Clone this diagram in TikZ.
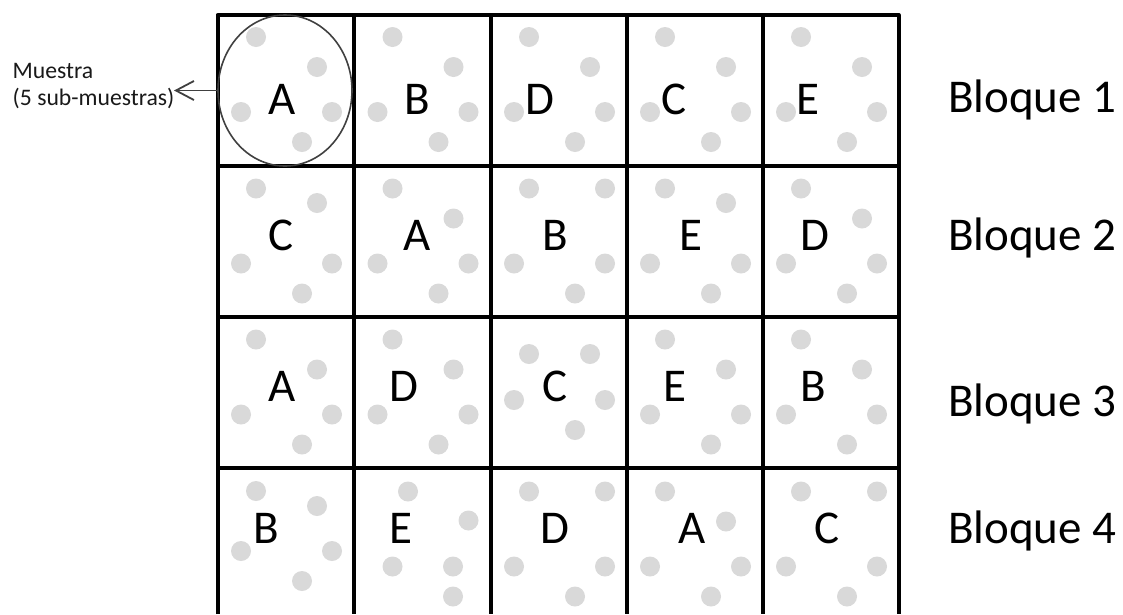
\documentclass[tikz,border=0pt]{standalone}
\usepackage{fontspec}
\setmainfont{Carlito}
\usetikzlibrary{arrows.meta,shapes.geometric}
\definecolor{dotgray}{HTML}{D9D9D9}
\definecolor{edgegray}{HTML}{404040}
\newcommand\celldots[3]{\edef\mydotlist{#3}\foreach \dx/\dy in \mydotlist{\fill[dotc] ({#1+\dx},{#2+\dy}) circle[radius=10pt];}}
\newcommand\patA{38.5/23, 99.5/53, 23.5/98, 114.5/98, 84.5/128}
\begin{document}
\begin{tikzpicture}[x=1pt,y=-1pt,
  dotc/.style={fill=dotgray},
  letter/.style={anchor=base,inner sep=0pt,font=\fontsize{47}{47}\selectfont},
  blk/.style={anchor=base west,inner sep=0pt,font=\fontsize{47}{47}\selectfont},
  small/.style={anchor=base west,inner sep=0pt,font=\fontsize{23.7}{26}\selectfont,text=black!90},
  gridline/.style={line width=4pt,black},
  sample/.style={draw=edgegray,line width=1.6pt,ellipse,inner sep=0pt,
    minimum width=134pt,minimum height=151pt},
  pointer/.style={draw=edgegray,line width=1.8pt,-{Straight Barb[length=18pt,width=19pt]}}]
\useasboundingbox (0,0) rectangle (1123,614);
% dots, row 1
\celldots{217.5}{14}{\patA}
\celldots{354}{14}{\patA}
\celldots{490.5}{14}{\patA}
\celldots{626.5}{14}{\patA}
\celldots{762.5}{14}{\patA}
% row 2
\celldots{217.5}{165.5}{38.5/23, 99.5/37.5, 23.5/98, 114.5/98, 84.5/128}
\celldots{354}{165.5}{\patA}
\celldots{490.5}{165.5}{38.5/23, 114.5/23, 23.5/98, 114.5/98, 84.5/128}
\celldots{626.5}{165.5}{38.5/23, 99.5/37.5, 23.5/98, 114.5/98, 84.5/128}
\celldots{762.5}{165.5}{\patA}
% row 3
\celldots{217.5}{316.5}{\patA}
\celldots{354}{316.5}{\patA}
\celldots{490.5}{316.5}{38.5/37.5, 99.5/37.5, 23.5/83.5, 114.5/83.5, 84.5/113.5}
\celldots{626.5}{316.5}{\patA}
\celldots{762.5}{316.5}{\patA}
% row 4
\celldots{217.5}{467.5}{38.5/23.5, 99.5/38.5, 23.5/83.5, 114.5/83.5, 84.5/113.5}
\celldots{354}{467.5}{54/24, 114.5/53, 38.5/99, 99/99, 99/129}
\celldots{490.5}{467.5}{38.5/24, 114.5/24, 23.5/99, 114.5/99, 84.5/129}
\celldots{626.5}{467.5}{38.5/24, 99.5/54, 23.5/99, 114.5/99, 84.5/129}
\celldots{762.5}{467.5}{38.5/24, 114.5/24, 23.5/99, 114.5/99, 84.5/129}
% letters
\node[letter] (r1a) at (282,114) {A};
\node[letter] (r1b) at (417.5,114) {B};
\node[letter] (r1c) at (540,114) {D};
\node[letter] (r1d) at (674,114) {C};
\node[letter] (r1e) at (808,114) {E};
\node[letter] (r2a) at (281,250) {C};
\node[letter] (r2b) at (417,250) {A};
\node[letter] (r2c) at (555,250) {B};
\node[letter] (r2d) at (690.5,250) {E};
\node[letter] (r2e) at (815,250) {D};
\node[letter] (r3a) at (282.5,401) {A};
\node[letter] (r3b) at (404,401) {D};
\node[letter] (r3c) at (555,401) {C};
\node[letter] (r3d) at (675,401) {E};
\node[letter] (r3e) at (813.5,401) {B};
\node[letter] (r4a) at (266,543) {B};
\node[letter] (r4b) at (400.8,543) {E};
\node[letter] (r4c) at (555,543) {D};
\node[letter] (r4d) at (692,543) {A};
\node[letter] (r4e) at (827,543) {C};
% grid
\draw[gridline,line join=round] (217.5,614) -- (217.5,15) -- (898.5,15) -- (898.5,614);
\foreach \gx in {354,490.5,626.5,762.5}{\draw[gridline] (\gx,15) -- (\gx,614);}
\foreach \gy in {165.5,316.5,467.5}{\draw[gridline] (217.5,\gy) -- (898.5,\gy);}
% block labels
\node[blk] (bl1) at (948,112.5) {Bloque 1};
\node[blk] (bl2) at (948,250) {Bloque 2};
\node[blk] (bl3) at (948,416) {Bloque 3};
\node[blk] (bl4) at (948,543) {Bloque 4};
% sample
\node[sample] (samp) at (285,90.5) {};
\node[small] (mt1) at (12.5,78.3) {Muestra};
\node[small] (mt2) at (12.5,105) {(5 sub-muestras)};
\coordinate (tip) at (174,90.5);
\draw[pointer] (samp.west) -- (tip);
\end{tikzpicture}
\end{document}
